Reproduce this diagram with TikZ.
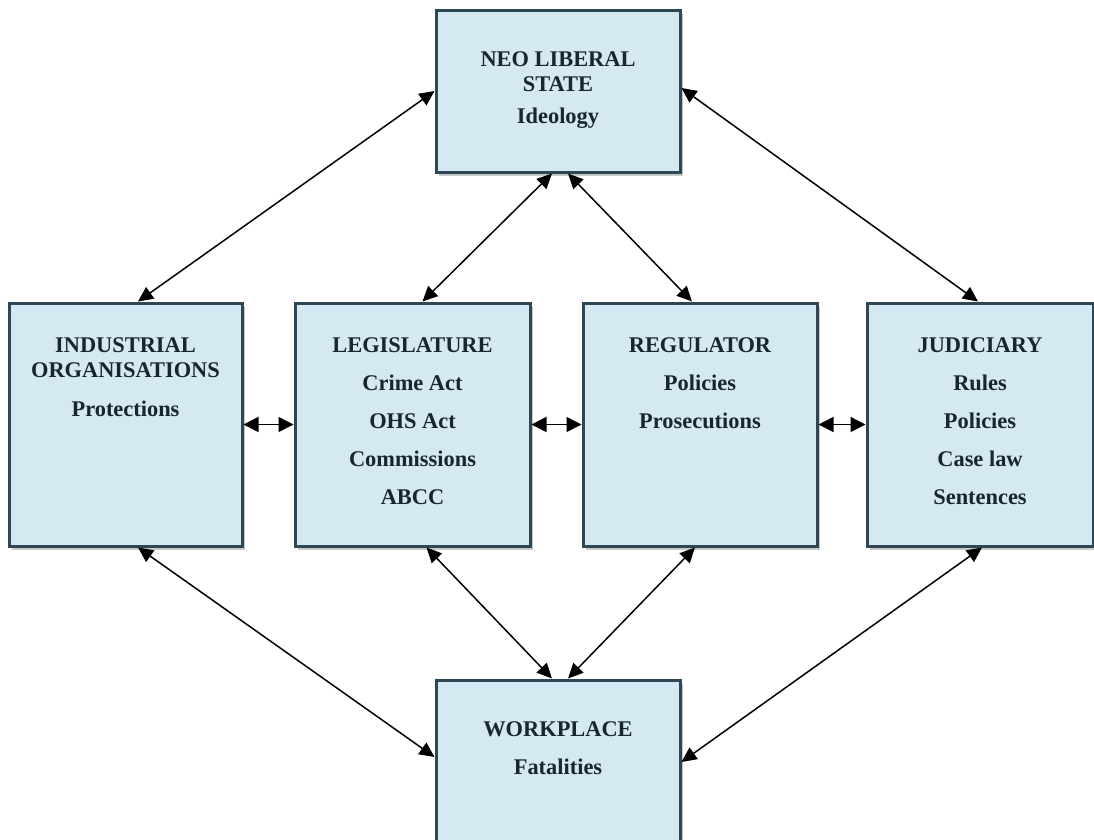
\documentclass[tikz,border=0pt]{standalone}
\usepackage{fontspec}
\setmainfont{Liberation Serif}
\usetikzlibrary{arrows.meta,shadows,calc}
\definecolor{boxfill}{RGB}{212,233,242}
\definecolor{boxline}{RGB}{45,72,84}
\definecolor{txt}{RGB}{25,38,46}
\tikzset{
  x=1pt,y=-1pt,
  panel/.style={draw=boxline,line width=3pt,fill=boxfill,inner sep=0pt,
    drop shadow={shadow xshift=3pt,shadow yshift=-4pt,opacity=0.3,fill=black!70}},
  label/.style={anchor=north,align=center,text=txt,inner sep=0pt,
    font=\bfseries\fontsize{22.4}{24.5}\selectfont},
  link/.style={line width=1.5pt,{Triangle[length=15pt,width=14pt]}-{Triangle[length=15pt,width=14pt]}},
  short/.style={line width=1.5pt,{Triangle[length=15pt,width=15pt]}-{Triangle[length=15pt,width=15pt]}}
}
\begin{document}
\begin{tikzpicture}
\useasboundingbox[fill=white] (0,0) rectangle (1094,839);
% boxes
\node[panel,minimum width=244pt,minimum height=162pt] (neo) at (558,91) {};
\node[panel,minimum width=233pt,minimum height=243pt] (ind) at (125.5,424.5) {};
\node[panel,minimum width=235pt,minimum height=243pt] (leg) at (412.5,424.5) {};
\node[panel,minimum width=234pt,minimum height=243pt] (reg) at (700,424.5) {};
\node[panel,minimum width=226pt,minimum height=243pt] (jud) at (980,424.5) {};
\node[panel,minimum width=244pt,minimum height=170pt] (work) at (558,765) {};
% texts
\node[label] (neoT) at ([yshift=-43pt]neo.north) {NEO LIBERAL\\STATE\\[8pt]Ideology};
\node[label] (indT) at ([yshift=-36pt]ind.north) {INDUSTRIAL\\ORGANISATIONS\\[15pt]Protections};
\node[label] (legT) at ([yshift=-36pt]leg.north) {LEGISLATURE\\[13.5pt]Crime Act\\[13.5pt]OHS Act\\[13.5pt]Commissions\\[13.5pt]ABCC};
\node[label] (regT) at ([yshift=-36pt]reg.north) {REGULATOR\\[13.5pt]Policies\\[13.5pt]Prosecutions};
\node[label] (judT) at ([yshift=-36pt]jud.north) {JUDICIARY\\[13.5pt]Rules\\[13.5pt]Policies\\[13.5pt]Case law\\[13.5pt]Sentences};
\node[label] (workT) at ([yshift=-43pt]work.north) {WORKPLACE\\[13.5pt]Fatalities};
% connectors
\draw[link] ([xshift=12.5pt]ind.north) -- (neo.west);
\draw[link] ([xshift=-2pt]jud.north) -- ([yshift=3pt]neo.east);
\draw[link] ([xshift=10pt]leg.north) -- ([xshift=-6pt]neo.south);
\draw[link] ([xshift=-8pt]reg.north) -- ([xshift=10pt]neo.south);
\draw[short] (ind.east) -- (leg.west);
\draw[short] (leg.east) -- (reg.west);
\draw[short] (reg.east) -- (jud.west);
\draw[link] ([xshift=12.5pt]ind.south) -- ([yshift=8pt]work.west);
\draw[link] ([xshift=14pt]leg.south) -- ([xshift=-6pt]work.north);
\draw[link] ([xshift=-5pt]reg.south) -- ([xshift=10pt]work.north);
\draw[link] ([xshift=2pt]jud.south) -- ([yshift=3pt]work.east);
\end{tikzpicture}
\end{document}
